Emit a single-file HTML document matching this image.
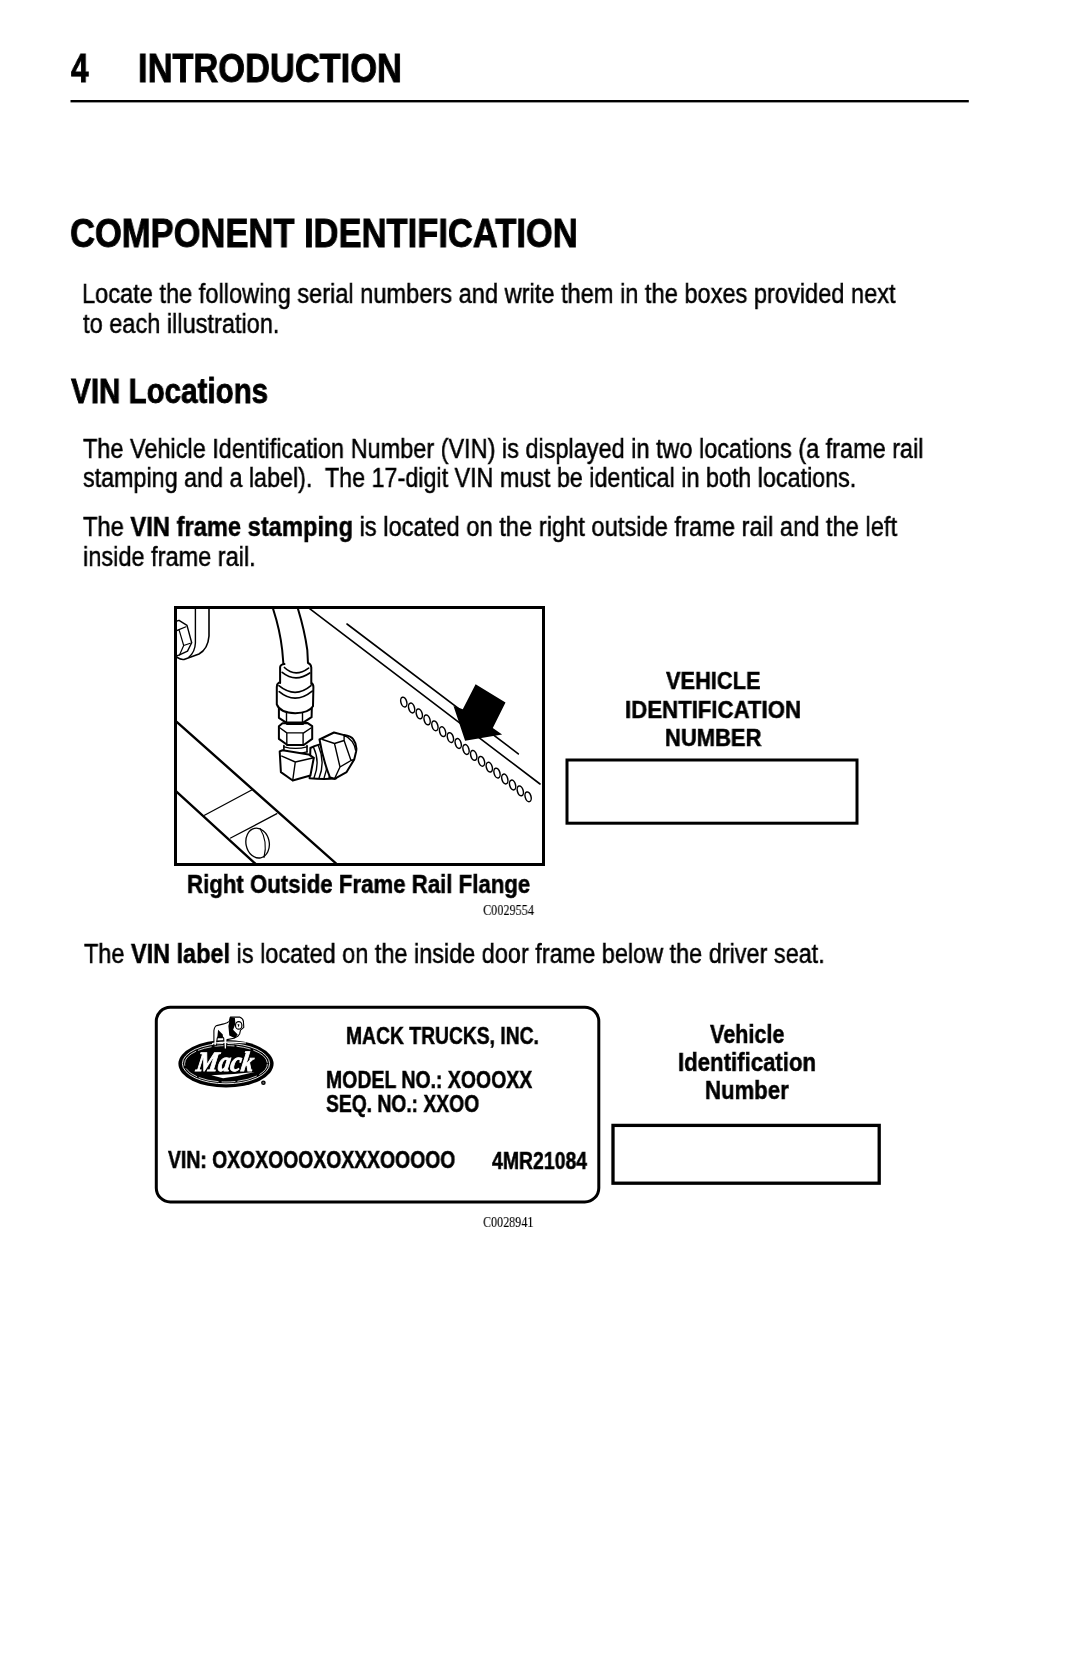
<!DOCTYPE html>
<html lang="en"><head><meta charset="utf-8"><title>Introduction - Component Identification</title>
<style>
html,body{margin:0;padding:0;background:#fff;}
body{width:1069px;height:1653px;position:relative;overflow:hidden;font-family:"Liberation Sans",sans-serif;color:#000;}
.t{position:absolute;will-change:transform;-webkit-text-stroke:0.25px #000;white-space:nowrap;transform-origin:0 0;line-height:1;margin:0;font-weight:normal;}
.t b{font-weight:bold;}
.b{font-weight:bold;}
.s{font-family:"Liberation Serif",serif;}
svg.art{position:absolute;left:0;top:0;display:block;}
</style></head><body>
<svg class="art" style="will-change:transform" width="1069" height="1653" viewBox="0 0 1069 1653">
<defs><clipPath id="cb1"><rect x="177" y="609" width="365" height="254"/></clipPath></defs>
<rect x="70.5" y="100" width="898.3" height="2.4" fill="#000"/>
<g clip-path="url(#cb1)" fill="none" stroke="#000" stroke-linecap="round" stroke-linejoin="round">
  <path d="M195.4 608 L195.4 643 Q195 652 189 657" stroke-width="1.4"/>
  <path d="M209 608 L209 636 Q208 649 199 654 L184 659.5 Q180 660 176 656.5" stroke-width="1.6"/>
  <path d="M176 621.4 L179 620.3 L187 625.4 L191.7 642.7 L187.5 651.1 L179.5 654.9 L176 656" stroke-width="1.4"/>
  <path d="M176 631 L179 629.6 L186 626.8 M179 629.6 L183.7 645.5 L190.3 643.2 M183.7 645.5 L179.5 654.9" stroke-width="1.2"/>
  <path d="M176.7 721.9 L335.9 863.3" stroke-width="2.4"/>
  <path d="M176.7 791.8 L255.9 864.2" stroke-width="2.4"/>
  <path d="M204.5 815.3 L251.7 790 M230.6 838 L276.9 813.7" stroke-width="1.3"/>
  <ellipse cx="257.6" cy="843.1" rx="11.6" ry="15" transform="rotate(-12 257.6 843.1)" stroke-width="1.3"/>
  <path d="M260 828.5 Q268 841 264 857.5" stroke-width="1.1"/>
  <path d="M308.8 608 L540 784" stroke-width="1.6"/>
  <path d="M347 624 L518.3 753.9" stroke-width="1.6"/>
  <!-- hose -->
  <g id="fitting" fill="#fff">
  <path d="M272.8 608 Q280 630 282.2 650 L283.5 665" stroke-width="2" fill="none"/>
  <path d="M297.7 608 Q304.5 630 307.3 650 L308 663.5" stroke-width="2" fill="none"/>
  <!-- hex nut 2 -->
  <path d="M278.9 726.2 L282.5 723.2 L307.3 722.9 L312.2 726.2 L312.2 738.9 L303.7 745 L287.4 745 L278.9 738.9 Z" stroke-width="2"/>
  <path d="M280.1 728 L286.8 732.9 L303.7 732.9 L311 728 M286.8 732.9 L286.8 745 M303.1 732.9 L303.1 745" stroke-width="1.4"/>
  <!-- hex nut 1 -->
  <path d="M278.9 705 L278.9 717.8 L286.2 722.6 L303.1 722.6 L311.6 717.2 L311.9 705 Z" stroke-width="2"/>
  <path d="M286.5 710 L286.5 723.2 M302.5 710 L302.5 723.2" stroke-width="1.4"/>
  <path d="M286.8 723.8 L303.1 723.8" stroke-width="2.2"/>
  <!-- ring -->
  <path d="M278.9 682.7 Q276.8 684 276.8 687 L276.8 704.4 Q280 712.8 295.2 713.2 Q309 712.8 313 706.3 L313.4 687 Q313.4 684 311 682.7 Z" stroke="none"/>
  <path d="M278.9 682.7 Q276.8 684 276.8 687 L276.8 704.4 Q280 712.8 295.2 713.2 Q309 712.8 313 706.3 L313.4 687 Q313.4 684 311 682.7" stroke-width="2" fill="none"/>
  <path d="M278.9 685.7 Q295.2 699 311 685.7" stroke-width="1.7" fill="none"/>
  <path d="M279.2 691.7 Q295.2 705 312.2 691.1" stroke-width="1.7" fill="none"/>
  <!-- ferrule -->
  <path d="M282.5 664.2 Q280.1 665 280.1 667.5 L280.1 683 Q295 690 311.3 683.9 L311.3 667.5 Q311 664 308 663 Z" stroke="none"/>
  <path d="M284.5 664 Q280.1 664.5 280.1 667.5 L280.1 683 M311.3 683.9 L311.3 667.5 Q311 664 308 663" stroke-width="2" fill="none"/>
  <path d="M284.4 667.5 Q295.2 678 308.6 668.1" stroke-width="1.7" fill="none"/>
  <path d="M282.2 672.4 Q295.2 683 309.8 673" stroke-width="1.7" fill="none"/>
  <!-- neck -->
  <path d="M283.9 745.5 L283.9 752 M307 745.5 L307 752" stroke-width="1.6"/>
  <path d="M284 746.8 Q295.5 750 307 746.8 M284 751.9 Q295.5 755 307 751.9" stroke-width="1.4" fill="none"/>
  <!-- threaded part -->
  <path d="M310.4 748 Q318 744 330 742.5 L336 778.5 Q322 779.5 309.6 778.2 Z" stroke-width="2"/>
  <path d="M313.5 747.2 Q320.5 762 314 778 M318.5 746 Q325.5 762 319 778.3 M323.5 745 Q330.5 761 324 778.3 M328.5 744 Q335.5 760 329 778" stroke-width="1.4" fill="none"/>
  <!-- elbow block -->
  <path d="M279.7 751.5 L280.9 772.1 L292.7 780.5 L310.4 775.5 L313.8 757.8 L308.7 754.4 L282.6 750.2 Z" stroke-width="2"/>
  <path d="M281.8 756.1 L295.3 762 L313.8 757.8 M295.3 762 L292.7 780.5" stroke-width="1.4" fill="none"/>
  <!-- right hex nut -->
  <path d="M319.5 739.5 L334 732.5 L344.1 735.1 Q351 736 353.3 739.3 Q357.5 745 356 752 L354.2 759.5 L346.6 772.1 L334.5 778.8 L330 777.5 Q323 760 319.5 739.5 Z" stroke-width="2"/>
  <path d="M322.5 739.5 L334.5 743.5 L344.1 740.5 L344.1 735.1 M334.5 743.5 L340 767 L334.5 778.8 M340 767 L351 760.5 L344.1 740.5 M351 760.5 L354.2 759.5 M344.1 735.1 Q354 740 355.5 750" stroke-width="1.4" fill="none"/>
  </g>
</g>
<g fill="none" stroke="#000" stroke-width="1.5"><ellipse cx="403.8" cy="702.1" rx="2.9" ry="5.0" transform="rotate(-16 403.8 702.1)"/><ellipse cx="411.6" cy="708.0" rx="2.9" ry="5.0" transform="rotate(-16 411.6 708.0)"/><ellipse cx="419.3" cy="713.9" rx="2.9" ry="5.0" transform="rotate(-16 419.3 713.9)"/><ellipse cx="427.1" cy="719.9" rx="2.9" ry="5.0" transform="rotate(-16 427.1 719.9)"/><ellipse cx="434.9" cy="725.8" rx="2.9" ry="5.0" transform="rotate(-16 434.9 725.8)"/><ellipse cx="442.6" cy="731.7" rx="2.9" ry="5.0" transform="rotate(-16 442.6 731.7)"/><ellipse cx="450.4" cy="737.6" rx="2.9" ry="5.0" transform="rotate(-16 450.4 737.6)"/><ellipse cx="458.2" cy="743.5" rx="2.9" ry="5.0" transform="rotate(-16 458.2 743.5)"/><ellipse cx="466.0" cy="749.5" rx="2.9" ry="5.0" transform="rotate(-16 466.0 749.5)"/><ellipse cx="473.7" cy="755.4" rx="2.9" ry="5.0" transform="rotate(-16 473.7 755.4)"/><ellipse cx="481.5" cy="761.3" rx="2.9" ry="5.0" transform="rotate(-16 481.5 761.3)"/><ellipse cx="489.3" cy="767.2" rx="2.9" ry="5.0" transform="rotate(-16 489.3 767.2)"/><ellipse cx="497.0" cy="773.1" rx="2.9" ry="5.0" transform="rotate(-16 497.0 773.1)"/><ellipse cx="504.8" cy="779.0" rx="2.9" ry="5.0" transform="rotate(-16 504.8 779.0)"/><ellipse cx="512.6" cy="785.0" rx="2.9" ry="5.0" transform="rotate(-16 512.6 785.0)"/><ellipse cx="520.3" cy="790.9" rx="2.9" ry="5.0" transform="rotate(-16 520.3 790.9)"/><ellipse cx="528.1" cy="796.8" rx="2.9" ry="5.0" transform="rotate(-16 528.1 796.8)"/></g>
<polygon points="475.6,684.2 505.5,702.6 492.8,728 502.1,734.4 465.1,740.7 453.5,705.9 462.8,709.3" fill="#000"/>
<rect x="175.5" y="607.5" width="368" height="257" fill="none" stroke="#000" stroke-width="3"/>
<rect x="567" y="760" width="290" height="63.2" fill="none" stroke="#000" stroke-width="3"/>
<rect x="156.3" y="1007.3" width="442.5" height="194.6" rx="14" ry="14" fill="none" stroke="#000" stroke-width="3"/>
<rect x="613" y="1125.4" width="266.2" height="57.8" fill="none" stroke="#000" stroke-width="3.3"/>
<g id="mack">
  <ellipse cx="226" cy="1063.8" rx="47.6" ry="23.8" fill="#000"/>
  <ellipse cx="226" cy="1063.6" rx="43.6" ry="20.2" fill="none" stroke="#fff" stroke-width="0.9"/>
  <ellipse cx="226" cy="1063.8" rx="41.4" ry="18.2" fill="none" stroke="#fff" stroke-width="0.8" stroke-dasharray="14 3 20 2"/>
  <text transform="translate(224 1071.4) skewX(-9) translate(-224 -1071.4)" x="195.5" y="1071.4" font-family="Liberation Serif" font-style="italic" font-weight="bold" font-size="28" fill="#fff" stroke="#fff" stroke-width="0.9" textLength="57" lengthAdjust="spacingAndGlyphs">Mack</text>
  <path d="M211.3 1075.3 Q232 1074.5 254.6 1071.9 Q240 1075.8 223.1 1078.3 Z" fill="#fff"/>
  <path d="M216.7 1025.6 L223.7 1023.9 L227 1022.8 L229.3 1021.4 L230.3 1017.1 L239.6 1017.1 Q243.4 1019 243.4 1021.4 L243.8 1027.4 L240.5 1030.2 L239.6 1034 L237.7 1036.3 L234 1038.2 L227 1039.6 L226.5 1049 L224.2 1049 L223.7 1038.2 L220.4 1034.5 L217.2 1038.2 L216.2 1045.7 L213.9 1045.7 L213.9 1030.7 Q214.5 1026.5 216.7 1025.6 Z" fill="#fff" stroke="#000" stroke-width="1.1" stroke-linejoin="round"/>
  <path d="M230.3 1017.1 L234.9 1018.1 L235.4 1023.7 L233.1 1029.8 L237.7 1034.5 L234.9 1038.2 L229.3 1035.4 L228.4 1026 L229.3 1021.4 Z" fill="#000"/>
  <ellipse cx="238.7" cy="1025.4" rx="3.2" ry="3.8" fill="#fff" stroke="#000" stroke-width="1.2"/>
  <path d="M237.5 1024 L239.5 1024.5 L238.5 1027.5 Z" fill="#000"/>
  <path d="M218.1 1029.8 L222.8 1034.5 L222.8 1038.2 L217.2 1038.2 Z" fill="#000"/>
  <path d="M212 1043.5 Q226 1041 246 1043" stroke="#fff" stroke-width="1.2" fill="none"/>
  <circle cx="263.4" cy="1082.7" r="2.3" fill="#000"/>
  <circle cx="263.4" cy="1082.7" r="1" fill="#666"/>
</g>
</svg>

<div class="t b" style="left:70.50px;top:47.91px;font-size:40.99px;-webkit-text-stroke-width:0.9px;transform:scaleX(0.7696)">4</div>
<div class="t b" style="left:138.32px;top:47.91px;font-size:40.99px;-webkit-text-stroke-width:0.9px;transform:scaleX(0.8401)">INTRODUCTION</div>
<div class="t b" style="left:70.35px;top:212.71px;font-size:40.84px;-webkit-text-stroke-width:0.9px;transform:scaleX(0.8458)">COMPONENT IDENTIFICATION</div>
<div class="t" style="left:82.09px;top:279.90px;font-size:27.62px;-webkit-text-stroke-width:0.5px;transform:scaleX(0.8551)">Locate the following serial numbers and write them in the boxes provided next</div>
<div class="t" style="left:83.10px;top:309.51px;font-size:27.62px;-webkit-text-stroke-width:0.5px;transform:scaleX(0.8533)">to each illustration.</div>
<div class="t b" style="left:71.30px;top:373.91px;font-size:34.30px;-webkit-text-stroke-width:0.8px;transform:scaleX(0.8620)">VIN Locations</div>
<div class="t" style="left:83.10px;top:434.90px;font-size:27.62px;-webkit-text-stroke-width:0.5px;transform:scaleX(0.8505)">The Vehicle Identification Number (VIN) is displayed in two locations (a frame rail</div>
<div class="t" style="left:83.10px;top:464.26px;font-size:27.62px;-webkit-text-stroke-width:0.5px;transform:scaleX(0.8444)">stamping and a label).  The 17-digit VIN must be identical in both locations.</div>
<div class="t" style="left:83.10px;top:512.90px;font-size:27.62px;-webkit-text-stroke-width:0.5px;transform:scaleX(0.8584)">The <b>VIN frame stamping</b> is located on the right outside frame rail and the left</div>
<div class="t" style="left:82.75px;top:542.60px;font-size:27.62px;-webkit-text-stroke-width:0.5px;transform:scaleX(0.8531)">inside frame rail.</div>
<div class="t b" style="left:187.22px;top:871.70px;font-size:25.15px;-webkit-text-stroke-width:0.5px;transform:scaleX(0.8839)">Right Outside Frame Rail Flange</div>
<div class="t s" style="left:483.10px;top:902.80px;font-size:14.05px;-webkit-text-stroke-width:0.1px;transform:scaleX(0.8699)">C0029554</div>
<div class="t b" style="left:665.50px;top:669.20px;font-size:24.13px;-webkit-text-stroke-width:0.5px;transform:scaleX(0.9041)">VEHICLE</div>
<div class="t b" style="left:624.98px;top:697.61px;font-size:24.13px;-webkit-text-stroke-width:0.5px;transform:scaleX(0.9207)">IDENTIFICATION</div>
<div class="t b" style="left:664.59px;top:725.61px;font-size:24.13px;-webkit-text-stroke-width:0.5px;transform:scaleX(0.9109)">NUMBER</div>
<div class="t" style="left:83.50px;top:939.71px;font-size:27.62px;-webkit-text-stroke-width:0.5px;transform:scaleX(0.8498)">The <b>VIN label</b> is located on the inside door frame below the driver seat.</div>
<div class="t b" style="left:346.17px;top:1025.32px;font-size:23.26px;-webkit-text-stroke-width:0.5px;transform:scaleX(0.8299)">MACK TRUCKS, INC.</div>
<div class="t b" style="left:325.96px;top:1068.71px;font-size:23.26px;-webkit-text-stroke-width:0.5px;transform:scaleX(0.8375)">MODEL NO.: XOOOXX</div>
<div class="t b" style="left:326.40px;top:1093.41px;font-size:23.26px;-webkit-text-stroke-width:0.5px;transform:scaleX(0.8291)">SEQ. NO.: XXOO</div>
<div class="t b" style="left:168.20px;top:1149.01px;font-size:23.26px;-webkit-text-stroke-width:0.5px;transform:scaleX(0.8331)">VIN: OXOXOOOXOXXXOOOOO</div>
<div class="t b" style="left:491.80px;top:1150.41px;font-size:23.26px;-webkit-text-stroke-width:0.5px;transform:scaleX(0.8356)">4MR21084</div>
<div class="t b" style="left:709.70px;top:1022.11px;font-size:25.15px;-webkit-text-stroke-width:0.5px;transform:scaleX(0.8577)">Vehicle</div>
<div class="t b" style="left:678.12px;top:1049.70px;font-size:25.15px;-webkit-text-stroke-width:0.5px;transform:scaleX(0.8826)">Identification</div>
<div class="t b" style="left:704.72px;top:1077.50px;font-size:25.15px;-webkit-text-stroke-width:0.5px;transform:scaleX(0.8815)">Number</div>
<div class="t s" style="left:483.10px;top:1215.11px;font-size:14.66px;-webkit-text-stroke-width:0.1px;transform:scaleX(0.8248)">C0028941</div>
</body></html>
